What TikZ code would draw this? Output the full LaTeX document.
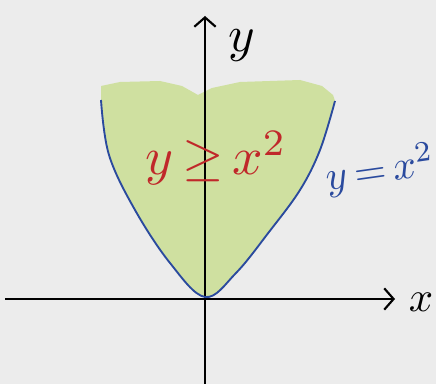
\documentclass[tikz,border=0pt]{standalone}
\usetikzlibrary{arrows.meta}
\definecolor{bgGray}{HTML}{ECECEC}
\definecolor{fillGreen}{HTML}{CFE0A0}
\definecolor{curveBlue}{HTML}{2A4A9E}
\definecolor{penRed}{HTML}{C0282A}
\tikzset{
  axis/.style={line width=1.6pt, -{Straight Barb[length=7pt,width=16pt,line width=1.6pt]}},
  curve/.style={curveBlue, line width=1.4pt},
  handlabel/.style={inner sep=0pt}
}
\newcommand{\parabolapts}{(101,100) (109,155) (135,210) (170,263)
    (205,297) (236,273) (269,232) (300,190) (320,150) (335,101)}
\begin{document}
\begin{tikzpicture}[x=0.75pt,y=-0.75pt]
        % Background
            \fill[bgGray] (0,0) rectangle (436,384);
            \useasboundingbox (0,0) rectangle (436,384);
        % Shaded region
            \fill[fillGreen] plot[smooth, tension=0.6] coordinates {\parabolapts}
                -- (333,95) -- (322,86) -- (300,80) -- (240,82) -- (212,88) -- (198,95)
                -- (182,86) -- (160,81) -- (120,82) -- (101,86) -- cycle;
        % Axes
            \coordinate (xstart) at (5,299);
            \coordinate (xend) at (395,299);
            \coordinate (ystart) at (205,384);
            \coordinate (yend) at (205,16);
            \draw[axis] (xstart) -- (xend);
            \draw[axis] (ystart) -- (yend);
            \node[handlabel, scale=3.2] (xlabel) at (421,302) {$x$};
            \node[handlabel, scale=3.8] (ylabel) at (242,46) {$y$};
        % Parabola y = x^2
            \draw[curve] plot[smooth, tension=0.6] coordinates {\parabolapts};
        % Labels
            \node[handlabel, penRed, scale=4.0] (region) at (216,158) {$y\,{\geq}\,x^2$};
            \node[handlabel, curveBlue, rotate=8, scale=3.1] (graph) at (380,170) {$y\,{=}\,x^2$};
        \end{tikzpicture}
\end{document}
